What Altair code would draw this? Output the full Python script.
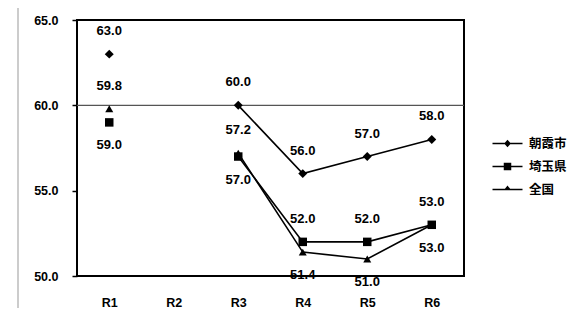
import altair as alt
import pandas as pd

years = ["R1", "R2", "R3", "R4", "R5", "R6"]
series = ["朝霞市", "埼玉県", "全国"]
asaka = [63.0, None, 60.0, 56.0, 57.0, 58.0]
saitama = [59.0, None, 57.0, 52.0, 52.0, 53.0]
zenkoku = [59.8, None, 57.2, 51.4, 51.0, 53.0]
# label placement: 1 = above point, -1 = below point
pos_asaka = [1, 1, 1, 1, 1, 1]
pos_saitama = [-1, -1, -1, 1, 1, 1]
pos_zenkoku = [1, 1, 1, -1, -1, -1]

rows = []
for name, vals, pos in [(series[0], asaka, pos_asaka), (series[1], saitama, pos_saitama), (series[2], zenkoku, pos_zenkoku)]:
    for yr, v, p in zip(years, vals, pos):
        rows.append({"year": yr, "series": name, "value": v, "pos": p})
df = pd.DataFrame(rows)

FONT = "Liberation Sans"
CJK = "Noto Sans CJK JP"

x = alt.X("year:N", sort=years, scale=alt.Scale(type="point", padding=0.5, domain=years),
          axis=alt.Axis(title=None, labelAngle=0, ticks=False, domain=False, labelPadding=20,
                        labelFont=FONT, labelFontSize=12.5, labelFontWeight="bold", labelColor="black"))
y = alt.Y("value:Q", scale=alt.Scale(domain=[50, 65], nice=False, zero=False),
          axis=alt.Axis(title=None, values=[50, 55, 60, 65], format=".1f", grid=False, domain=False,
                        tickSize=5, tickColor="black", tickWidth=1.5, labelPadding=14,
                        labelFont=FONT, labelFontSize=12.5, labelFontWeight="bold", labelColor="black"))

base = alt.Chart(df)

grid60 = alt.Chart(pd.DataFrame({"v": [60]})).mark_rule(color="#555", strokeWidth=1.3).encode(
    y=alt.Y("v:Q", scale=alt.Scale(domain=[50, 65])))

lines = base.mark_line(color="black", strokeWidth=1.6).encode(x=x, y=y, detail="series:N")

points = base.mark_point(filled=True, color="black", opacity=1).encode(
    x=x, y=y,
    shape=alt.Shape("series:N", scale=alt.Scale(domain=series, range=["diamond", "square", "triangle-up"]), legend=None),
    size=alt.Size("series:N", scale=alt.Scale(domain=series, range=[80, 64, 45]), legend=None),
).transform_filter("isValid(datum.value)")

text_style = dict(font=FONT, fontSize=13, fontWeight="bold", color="black")
labels_above = base.mark_text(dy=-23, **text_style).encode(
    x=x, y=y, text=alt.Text("value:Q", format=".1f")
).transform_filter("isValid(datum.value) && datum.pos > 0")
labels_below = base.mark_text(dy=23, **text_style).encode(
    x=x, y=y, text=alt.Text("value:Q", format=".1f")
).transform_filter("isValid(datum.value) && datum.pos < 0")

legend_paths = [
    "M-2,-0.1L2,-0.1L2,0.1L-2,0.1ZM0,-0.5L0.45,0L0,0.5L-0.45,0Z",
    "M-2,-0.1L2,-0.1L2,0.1L-2,0.1ZM-0.5,-0.5L0.5,-0.5L0.5,0.5L-0.5,0.5Z",
    "M-2,-0.1L2,-0.1L2,0.1L-2,0.1ZM0,-0.55L0.5,0.1L-0.5,0.1Z",
]
legend_layer = base.mark_point(filled=True, color="black").encode(
    x=x, y=y,
    shape=alt.Shape("series:N", scale=alt.Scale(domain=series, range=legend_paths),
                    legend=alt.Legend(title=None, orient="none", legendX=422, legendY=115,
                                      symbolSize=225, symbolFillColor="black",
                                      symbolOpacity=1, labelOffset=13,
                                      rowPadding=7, labelFont=CJK, labelFontSize=12.5,
                                      labelFontWeight="bold", labelColor="black")),
).transform_filter("datum.value > 1000")

side_line = alt.Chart(pd.DataFrame({"a": [0]})).mark_rule(color="#999", strokeWidth=1).encode(
    x=alt.value(-59), y=alt.value(-16), y2=alt.value(293))

chart = alt.layer(side_line, grid60, lines, points, labels_above, labels_below, legend_layer).resolve_scale(
    shape="independent", size="independent"
).properties(
    width=387, height=256,
    autosize=alt.AutoSizeParams(type="none"),
    padding={"left": 69, "top": 12, "right": 106, "bottom": 32},
    background="white",
).configure_view(stroke="black", strokeWidth=2)

chart.save("out.html", embed_options={"renderer": "svg", "actions": False})
